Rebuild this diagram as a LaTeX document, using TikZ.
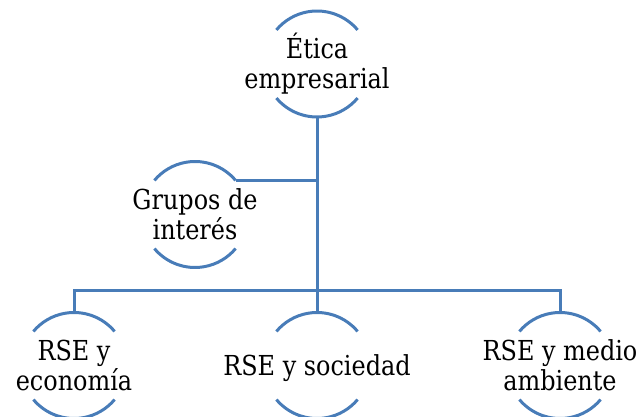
\documentclass[tikz,border=0pt]{standalone}
\usepackage{fontspec}
\setmainfont{DejaVu Serif}[FakeStretch=0.87]
\definecolor{ringblue}{RGB}{72,124,184}
\def\ringr{53pt}
\tikzstyle{topic}=[circle,minimum size=106pt,inner sep=0pt,outer sep=0pt]
\tikzstyle{rtext}=[align=center,inner sep=0pt,text=black,
                   font=\fontsize{27.5}{30}\selectfont]
\tikzstyle{ring}=[draw=ringblue,line width=3pt]
\tikzstyle{link}=[draw=ringblue,line width=3pt]
\newcommand{\drawrings}[1]{%
  \draw[ring] (#1.40) arc[start angle=40,end angle=140,radius=\ringr];
  \draw[ring] (#1.-140) arc[start angle=-140,end angle=-40,radius=\ringr];}

\begin{document}
\begin{tikzpicture}[x=1pt,y=1pt]
  \useasboundingbox (0,0) rectangle (639,417);

  % Place top topic
  \node[topic] (etica) at (317,353) {};
  \node[rtext] (eticatxt) at (etica) {Ética\\empresarial};

  % Side topic
  \node[topic] (grupos) at (195,202.5) {};
  \node[rtext] (grupostxt) at (grupos) {Grupos de\\interés};

  % Bottom row
  \node[topic] (econ) at (74,51.5) {};
  \node[rtext] (econtxt) at (econ) {RSE y\\economía};

  \node[topic] (soc) at (317,51.5) {};
  \node[rtext,text depth=0pt] (soctxt) at (soc) {RSE y sociedad};

  \node[topic] (medio) at (560,51.5) {};
  \node[rtext] (mediotxt) at (medio) {RSE y medio\\ambiente};

  \drawrings{etica}
  \drawrings{grupos}
  \drawrings{econ}
  \drawrings{soc}
  \drawrings{medio}

  % Connectors
  \coordinate (hub) at (317,126);
  \path[link] (etica.south) -- (hub);
  \path[link] (grupos.40) -- (grupos.40 -| hub);
  \path[link] (econ.north) |- (hub) -| (medio.north);
  \path[link] (hub) -- (soc.north);

\end{tikzpicture}
\end{document}
